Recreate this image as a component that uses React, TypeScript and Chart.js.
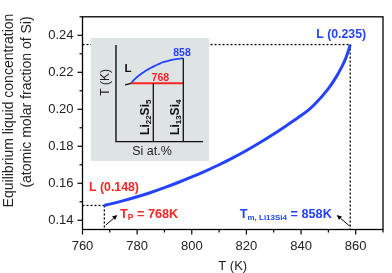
import React, { useEffect, useRef } from 'react';
import { Chart, registerables } from 'chart.js';

Chart.register(...registerables);

const FONT = 'Arial, "Liberation Sans", Helvetica, sans-serif';
const BLUE = '#2443ff';
const RED = '#ff2424';

// Equilibrium liquid concentration (atomic molar fraction of Si) vs temperature
const temperatures = [768, 770, 775, 780, 785, 790, 795, 800, 805, 810, 815, 820, 825, 830, 835, 840, 843, 845, 850, 853, 855, 856, 857, 857.5, 858];
const concentrations = [0.148, 0.1487, 0.1506, 0.1527, 0.155, 0.1576, 0.1604, 0.1634, 0.1666, 0.17, 0.1737, 0.1777, 0.182, 0.1866, 0.1915, 0.1966, 0.2, 0.2027, 0.2112, 0.2178, 0.2232, 0.2263, 0.2302, 0.2323, 0.235];

const eutecticT = 768;
const eutecticC = 0.148;
const meltT = 858;
const meltC = 0.235;

const xMin = 760, xMax = 870, xStep = 10, xLabelStep = 20;
const yMin = 0.135, yMax = 0.25, yStep = 0.01;

// Inset: schematic phase diagram (Si at.% vs T)
const compoundLabels = [
  [{ t: 'Li' }, { t: '22', sub: true }, { t: 'Si' }, { t: '5', sub: true }],
  [{ t: 'Li' }, { t: '13', sub: true }, { t: 'Si' }, { t: '4', sub: true }],
];
const compoundSi = [18.5, 23.5];
const compoundTopT = [768, 858];
const insetBaseT = 558;
const insetAxisTopT = 906;
const insetAxisSi = 12.28;
const insetAxisEndSi = 26.8;
const insetTailSi = [13.8, 14.8];
const insetTailT = [762, 768];
const insetXMin = 8.117, insetXMax = 27.783;
const insetYMin = 488.3, insetYMax = 931.1;

type Part = { t: string; sub?: boolean };

function drawRich(
  ctx: CanvasRenderingContext2D, parts: Part[], x: number, y: number,
  size: number, subSize: number, subOffset: number, weight: string, color: string,
  align: 'left' | 'right' | 'center'
) {
  ctx.save();
  ctx.fillStyle = color;
  ctx.textBaseline = 'alphabetic';
  ctx.textAlign = 'left';
  const widths = parts.map((p) => {
    ctx.font = `${weight} ${p.sub ? subSize : size}px ${FONT}`;
    return ctx.measureText(p.t).width;
  });
  const total = widths.reduce((a, b) => a + b, 0);
  let cx = align === 'left' ? x : align === 'right' ? x - total : x - total / 2;
  parts.forEach((p, i) => {
    ctx.font = `${weight} ${p.sub ? subSize : size}px ${FONT}`;
    ctx.fillText(p.t, cx, y + (p.sub ? subOffset : 0));
    cx += widths[i];
  });
  ctx.restore();
}

function arrow(ctx: CanvasRenderingContext2D, x1: number, y1: number, x2: number, y2: number) {
  ctx.save();
  ctx.strokeStyle = '#000';
  ctx.fillStyle = '#000';
  ctx.lineWidth = 1;
  const a = Math.atan2(y2 - y1, x2 - x1);
  const hl = 5, hw = 2.3;
  const bx = x2 - hl * Math.cos(a), by = y2 - hl * Math.sin(a);
  ctx.beginPath();
  ctx.moveTo(x1, y1);
  ctx.lineTo(bx, by);
  ctx.stroke();
  ctx.beginPath();
  ctx.moveTo(x2, y2);
  ctx.lineTo(bx + hw * Math.sin(a), by - hw * Math.cos(a));
  ctx.lineTo(bx - hw * Math.sin(a), by + hw * Math.cos(a));
  ctx.closePath();
  ctx.fill();
  ctx.restore();
}

export default function App() {
  const mainRef = useRef<HTMLCanvasElement>(null);
  const insetRef = useRef<HTMLCanvasElement>(null);

  useEffect(() => {
    const mainCanvas = mainRef.current!;
    const insetCanvas = insetRef.current!;
    const curve = temperatures.map((t, i) => ({ x: t, y: concentrations[i] }));

    const guides = {
      id: 'guides',
      beforeDatasetsDraw(chart: any) {
        const { ctx, chartArea: ca, scales } = chart;
        const x = scales.x, y = scales.y;
        ctx.save();
        ctx.strokeStyle = '#000';
        ctx.lineWidth = 1.3;
        ctx.setLineDash([2, 2]);
        const seg = (x1: number, y1: number, x2: number, y2: number) => {
          ctx.beginPath(); ctx.moveTo(x1, y1); ctx.lineTo(x2, y2); ctx.stroke();
        };
        const ex = x.getPixelForValue(eutecticT), ey = y.getPixelForValue(eutecticC);
        const mx = x.getPixelForValue(meltT), my = y.getPixelForValue(meltC);
        seg(ca.left, ey, ex, ey); seg(ex, ey, ex, ca.bottom);
        seg(ca.left, my, mx, my); seg(mx, my, mx, ca.bottom);
        ctx.restore();
      },
    };

    const decor = {
      id: 'decor',
      afterDraw(chart: any) {
        const { ctx, chartArea: ca, scales } = chart;
        const x = scales.x, y = scales.y;
        ctx.save();
        ctx.strokeStyle = '#000';
        ctx.lineWidth = 1.3;
        ctx.setLineDash([]);
        ctx.strokeRect(ca.left, ca.top, ca.right - ca.left, ca.bottom - ca.top);
        ctx.lineWidth = 1.2;
        x.ticks.forEach((t: any) => {
          const major = Math.round(t.value) % xLabelStep === 0;
          const p = x.getPixelForValue(t.value);
          ctx.beginPath(); ctx.moveTo(p, ca.bottom); ctx.lineTo(p, ca.bottom + (major ? 5 : 3)); ctx.stroke();
        });
        y.ticks.forEach((t: any) => {
          const major = Math.round(t.value * 100) % 2 === 0;
          const p = y.getPixelForValue(t.value);
          ctx.beginPath(); ctx.moveTo(ca.left, p); ctx.lineTo(ca.left - (major ? 5 : 3), p); ctx.stroke();
        });
        ctx.restore();

        // axis titles
        ctx.save();
        ctx.fillStyle = '#222';
        ctx.font = `13px ${FONT}`;
        ctx.textAlign = 'center';
        ctx.textBaseline = 'alphabetic';
        ctx.fillText('T (K)', (ca.left + ca.right) / 2, 269.5);
        ctx.restore();
        ctx.save();
        ctx.fillStyle = '#222';
        ctx.font = `14px ${FONT}`;
        ctx.textAlign = 'center';
        ctx.textBaseline = 'alphabetic';
        ctx.translate(13, 110.5);
        ctx.rotate(-Math.PI / 2);
        ctx.fillText('Equilibrium liquid concentration', 0, 0);
        ctx.restore();
        ctx.save();
        ctx.fillStyle = '#222';
        ctx.font = `14px ${FONT}`;
        ctx.textAlign = 'center';
        ctx.textBaseline = 'alphabetic';
        ctx.translate(30.5, 102);
        ctx.rotate(-Math.PI / 2);
        ctx.fillText('(atomic molar fraction of Si)', 0, 0);
        ctx.restore();

        // annotations
        const ex = x.getPixelForValue(eutecticT), ey = y.getPixelForValue(eutecticC);
        const mx = x.getPixelForValue(meltT), my = y.getPixelForValue(meltC);
        drawRich(ctx, [{ t: 'L (0.148)' }], ex - 15.3, ey - 14.3, 12.3, 9, 0, 'bold', RED, 'left');
        drawRich(ctx, [{ t: 'L (0.235)' }], mx - 34, my - 7, 12.3, 9, 0, 'bold', BLUE, 'left');
        drawRich(ctx, [{ t: 'T' }, { t: 'P', sub: true }, { t: ' = 768K' }], ex + 15.7, ca.bottom - 11.3, 12.7, 8.5, 1.5, 'bold', RED, 'left');
        drawRich(ctx, [{ t: 'T' }, { t: 'm, Li13Si4', sub: true }, { t: ' = 858K' }], mx - 18.4, ca.bottom - 11.3, 12.7, 8, 1.5, 'bold', BLUE, 'right');
        arrow(ctx, ex + 1.5, ca.bottom - 4.5, ex + 13, ca.bottom - 14.5);
        arrow(ctx, mx - 0.7, ca.bottom - 3.5, mx - 13.5, ca.bottom - 14.5);
      },
    };

    const chart = new Chart(mainCanvas, {
      type: 'line',
      data: {
        datasets: [{
          data: curve,
          borderColor: BLUE,
          borderWidth: 3,
          pointRadius: 0,
          cubicInterpolationMode: 'monotone',
          fill: false,
        }],
      },
      options: {
        responsive: false,
        animation: false,
        devicePixelRatio: 1,
        layout: { padding: { top: 2, right: 2, left: 0, bottom: 0 } },
        plugins: { legend: { display: false }, tooltip: { enabled: false } },
        scales: {
          x: {
            type: 'linear', min: xMin, max: xMax,
            grid: { display: false, drawTicks: false },
            border: { display: false },
            ticks: {
              stepSize: xStep, autoSkip: false, maxRotation: 0, includeBounds: false, padding: 9,
              color: '#222', font: { family: FONT, size: 13 },
              callback: (v: any) => (Math.round(Number(v)) % xLabelStep === 0 ? String(Math.round(Number(v))) : ''),
            },
            afterFit: (s: any) => { s.height = 43.5; },
          },
          y: {
            type: 'linear', min: yMin, max: yMax,
            grid: { display: false, drawTicks: false },
            border: { display: false },
            ticks: {
              stepSize: yStep, autoSkip: false, includeBounds: false, padding: 9,
              color: '#222', font: { family: FONT, size: 13 },
              callback: (v: any) => (Math.round(Number(v) * 100) % 2 === 0 ? Number(v).toFixed(2) : ''),
            },
            afterFit: (s: any) => { s.width = 82.5; },
          },
        },
      } as any,
      plugins: [guides, decor] as any,
    });

    // ---------- inset ----------
    const insetText = {
      id: 'insetText',
      afterDraw(c: any) {
        const { ctx, scales } = c;
        const px = (v: number) => scales.x.getPixelForValue(v);
        const py = (v: number) => scales.y.getPixelForValue(v);
        drawRich(ctx, [{ t: '858' }], px(meltC * 100) - 1.3, py(meltT) - 2.3, 10.5, 8, 0, 'bold', BLUE, 'center');
        drawRich(ctx, [{ t: '768' }], px(compoundSi[0]) + 7, py(eutecticT) - 2.6, 10.5, 8, 0, 'bold', RED, 'center');
        drawRich(ctx, [{ t: 'L' }], px(eutecticC * 100) - 6.5, py(eutecticT) - 11.6, 11.5, 8, 0, 'bold', '#111', 'left');
        // T (K)
        ctx.save();
        ctx.translate(px(insetAxisSi) - 7, py(eutecticT) - 1);
        ctx.rotate(-Math.PI / 2);
        drawRich(ctx, [{ t: 'T (K)' }], 0, 0, 12, 8, 0, 'normal', '#222', 'center');
        ctx.restore();
        compoundLabels.forEach((parts, i) => {
          ctx.save();
          ctx.translate(px(compoundSi[i]) - 4.5, py(insetBaseT) - 6.7);
          ctx.rotate(-Math.PI / 2);
          drawRich(ctx, parts, 0, 0, 12, 8, 2.5, 'bold', '#111', 'left');
          ctx.restore();
        });
        drawRich(ctx, [{ t: 'Si at.%' }], px(compoundSi[0]) - 1.3, py(insetBaseT) + 13.3, 12.5, 8, 0, 'normal', '#222', 'center');
      },
    };

    const blackLine = (data: any[], w = 1.3) => ({
      data, borderColor: '#111', borderWidth: w, pointRadius: 0, tension: 0, fill: false,
    });

    const inset = new Chart(insetCanvas, {
      type: 'line',
      data: {
        datasets: [
          blackLine([
            { x: insetAxisSi, y: insetAxisTopT },
            { x: insetAxisSi, y: insetBaseT },
            { x: insetAxisEndSi, y: insetBaseT },
          ], 1.4),
          ...compoundSi.map((s, i) => blackLine([{ x: s, y: compoundTopT[i] }, { x: s, y: insetBaseT }])),
          blackLine(insetTailSi.map((s, i) => ({ x: s, y: insetTailT[i] })), 1.3),
          {
            data: [{ x: eutecticC * 100, y: eutecticT }, { x: compoundSi[1], y: eutecticT }],
            borderColor: RED, borderWidth: 2, pointRadius: 0, tension: 0, fill: false,
          },
          {
            data: temperatures.map((t, i) => ({ x: concentrations[i] * 100, y: t })),
            borderColor: BLUE, borderWidth: 1.8, pointRadius: 0, cubicInterpolationMode: 'monotone', fill: false,
          },
        ],
      },
      options: {
        responsive: false,
        animation: false,
        devicePixelRatio: 1,
        layout: { padding: 0 },
        plugins: { legend: { display: false }, tooltip: { enabled: false } },
        scales: {
          x: { type: 'linear', display: false, min: insetXMin, max: insetXMax },
          y: { type: 'linear', display: false, min: insetYMin, max: insetYMax },
        },
      } as any,
      plugins: [insetText] as any,
    });

    return () => {
      chart.destroy();
      inset.destroy();
    };
  }, []);

  return (
    <div style={{ position: 'fixed', left: 0, top: 0, width: 392, height: 273, background: '#fff' }}>
      <canvas ref={mainRef} width={392} height={273} style={{ position: 'absolute', left: 0, top: 0 }} />
      <canvas
        ref={insetRef}
        width={118}
        height={123}
        style={{ position: 'absolute', left: 91, top: 38, background: '#dee3e3' }}
      />
    </div>
  );
}
